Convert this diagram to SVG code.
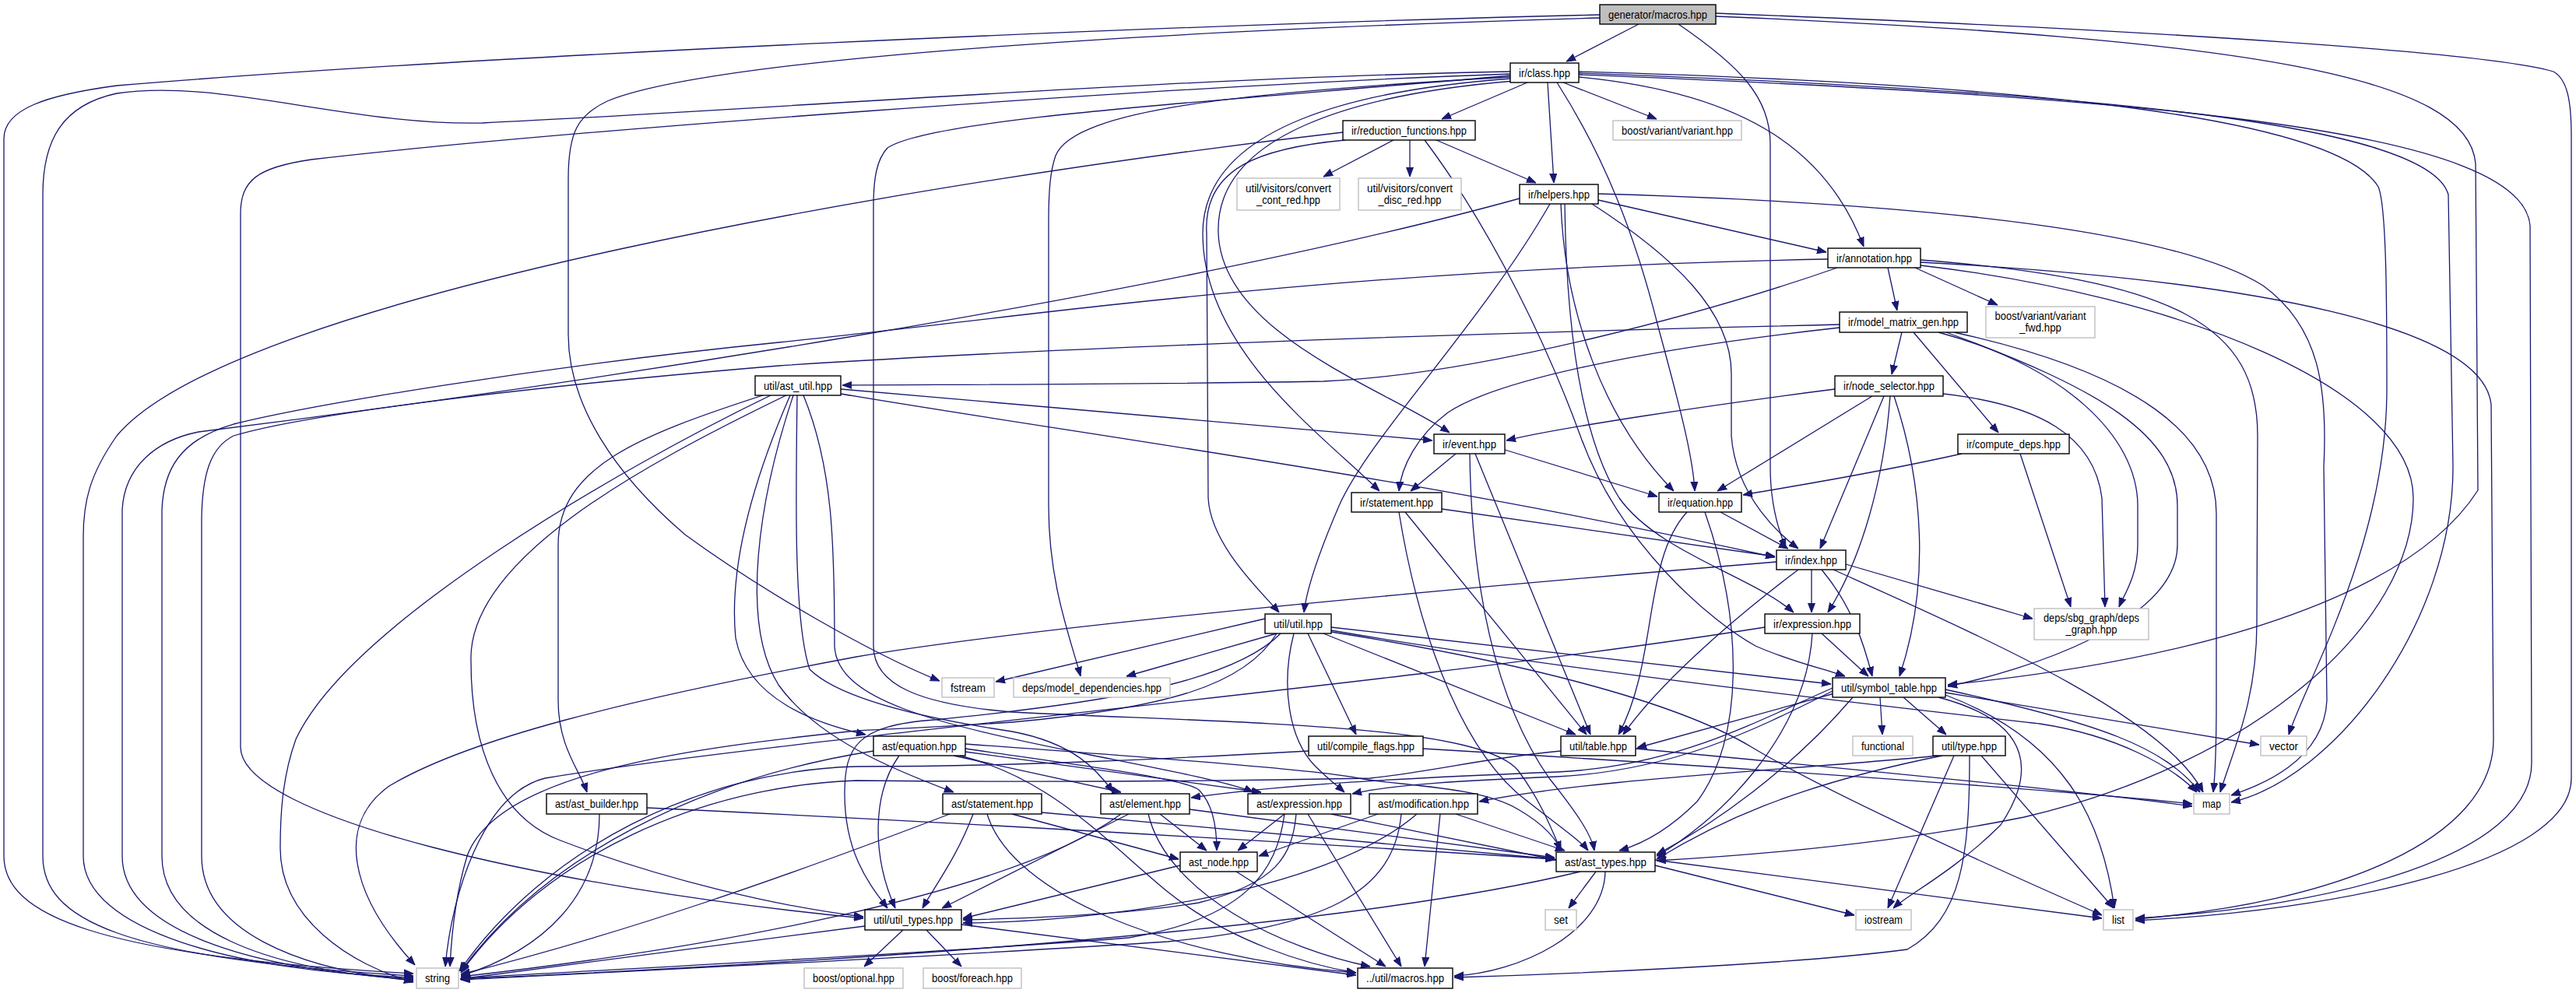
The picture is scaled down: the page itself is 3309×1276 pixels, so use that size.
<svg xmlns="http://www.w3.org/2000/svg" width="3309" height="1276" viewBox="0 0 3309 1276">
<defs>
<marker id="ah" viewBox="0 0 12 10" refX="12" refY="5" markerWidth="12" markerHeight="10" markerUnits="userSpaceOnUse" orient="auto"><path d="M0,0.5 L12,5 L0,9.5 z" fill="#191970" stroke="#191970" stroke-width="1"/></marker>
</defs>
<style>
.n rect{fill:#fff;stroke:#000;stroke-width:1.4}
.x rect{fill:#fff;stroke:#bfbfbf;stroke-width:1.4}
.r rect{fill:#bfbfbf;stroke:#000;stroke-width:1.4}
text{font-family:"Liberation Sans",Arial,sans-serif;font-size:14.5px;fill:#000;text-anchor:middle}
#edges path{fill:none;stroke:#191970;stroke-width:1.3;marker-end:url(#ah)}
</style>
<rect width="3309" height="1276" fill="#fff"/>
<g id="edges">
<path d="M2105,31 L2012,79"/>
<path d="M2055,19 C1500,32 600,72 150,110 C60,122 5,140 5,178 L5,1100 C5,1175 120,1228 531,1251"/>
<path d="M2055,23 C1400,42 900,80 780,130 C742,148 730,170 730,230 L730,430 C730,520 790,610 880,687 C980,760 1120,840 1207,875"/>
<path d="M2156,31 C2235,85 2274,125 2274,185 L2274,600 C2274,650 2286,685 2294,704"/>
<path d="M2204,21 C2900,50 3170,100 3180,210 L3183,630 C3100,760 2850,845 2502,880"/>
<path d="M2204,17 C2800,40 3200,68 3280,92 C3298,102 3303,130 3303,175 L3303,1000 C3303,1110 3000,1170 2743,1183"/>
<path d="M1962,106 L1852,153"/>
<path d="M2008,106 L2128,153"/>
<path d="M1988,106 L1996,235"/>
<path d="M2028,99 C2250,120 2350,200 2394,317"/>
<path d="M2000,106 C2060,200 2100,300 2130,420 C2160,530 2175,590 2177,631"/>
<path d="M1945,104 C1750,120 1560,170 1565,300 C1570,430 1780,500 1862,556"/>
<path d="M1941,101 C1750,115 1545,160 1545,300 C1545,450 1700,560 1772,631"/>
<path d="M1940,99 C1600,118 1380,140 1356,200 C1349,220 1347,245 1347,285 L1347,650 C1347,750 1375,820 1388,869"/>
<path d="M1940,97 C1600,128 1200,150 1140,190 C1126,205 1122,230 1122,265 L1122,830 C1122,880 1180,905 1300,915 C1600,930 1900,930 1950,990 C1980,1030 1995,1070 2005,1093"/>
<path d="M1940,92 C1500,100 1000,140 620,158 C450,162 280,100 150,120 C80,135 55,180 55,250 L55,1100 C55,1180 150,1232 531,1254"/>
<path d="M1940,95 C1500,110 700,170 400,205 C330,215 309,232 309,275 L309,960 C309,1050 700,1140 1109,1180"/>
<path d="M2028,92 C2600,108 3000,150 3055,240 C3066,265 3066,400 3066,500 C3066,700 2960,880 2940,944"/>
<path d="M2028,94 C2700,118 3120,160 3145,250 L3151,600 C3151,800 3000,1000 2866,1031"/>
<path d="M2028,96 C2800,126 3240,170 3250,290 L3252,980 C3252,1100 3000,1165 2743,1180"/>
<path d="M1790,180 L1700,227"/>
<path d="M1811,180 L1811,227"/>
<path d="M1845,180 L1973,235"/>
<path d="M1725,170 C1200,230 300,380 150,560 C115,610 107,645 107,690 L107,1100 C107,1195 300,1248 531,1256"/>
<path d="M1728,180 C1620,190 1545,215 1550,300 L1552,640 C1555,700 1620,760 1643,787"/>
<path d="M1830,180 C1920,300 1990,450 2030,560 C2080,700 2200,800 2255,830 C2300,850 2345,860 2370,869"/>
<path d="M2053,257 L2346,324"/>
<path d="M1952,255 C1500,380 700,500 255,555 C200,566 160,600 157,655 L157,1100 C157,1195 320,1246 531,1258"/>
<path d="M1991,262 C1900,420 1760,560 1720,650 C1690,720 1678,760 1675,787"/>
<path d="M2005,262 C2010,400 2060,540 2150,631"/>
<path d="M2010,262 C2012,420 2030,560 2080,640 C2130,710 2250,740 2304,787"/>
<path d="M2045,262 C2150,330 2224,400 2224,480 L2224,560 C2230,640 2290,690 2310,705"/>
<path d="M2053,249 C2500,262 2800,300 2907,367 C2980,420 2990,500 2985,600 L2989,900 C2985,980 2900,1010 2866,1022"/>
<path d="M2425,344 L2437,399"/>
<path d="M2460,344 L2566,392"/>
<path d="M2348,333 C1700,345 1300,410 1000,440 C700,470 400,520 300,545 C230,565 210,605 208,655 L208,1100 C208,1195 340,1246 531,1259"/>
<path d="M2360,344 C2200,400 1900,482 1700,490 C1400,495 1200,494 1082,495"/>
<path d="M2467,337 C2900,360 3190,420 3200,520 L3203,950 C3203,1080 3000,1160 2743,1181"/>
<path d="M2467,334 C2800,360 2900,420 2900,560 L2899,800 C2899,900 2870,960 2852,1018"/>
<path d="M2467,341 C2800,380 3100,500 3100,640 C3100,800 2900,980 2600,1050 C2400,1090 2200,1102 2128,1106"/>
<path d="M2443,427 L2430,481"/>
<path d="M2458,427 L2567,556"/>
<path d="M2363,417 C1800,430 1300,450 1000,470 C700,495 400,530 300,560 C270,575 260,610 259,665 L259,1100 C259,1195 380,1246 531,1260"/>
<path d="M2363,421 C2100,450 1920,490 1860,530 C1820,560 1800,600 1797,631"/>
<path d="M2490,427 C2650,470 2746,560 2746,650 L2746,700 C2746,740 2728,765 2722,780"/>
<path d="M2500,427 C2700,500 2797,560 2797,650 L2797,700 C2797,800 2600,862 2502,882"/>
<path d="M2510,427 C2750,480 2847,560 2847,660 L2847,900 C2847,960 2845,1000 2843,1018"/>
<path d="M2357,500 C2200,520 2000,550 1935,566"/>
<path d="M2405,509 L2206,631"/>
<path d="M2420,509 L2338,705"/>
<path d="M2428,509 C2420,620 2390,720 2348,787"/>
<path d="M2433,509 C2470,620 2480,750 2440,869"/>
<path d="M2496,506 C2620,520 2690,560 2700,640 L2704,780"/>
<path d="M2520,583 C2400,610 2300,625 2239,636"/>
<path d="M2595,583 L2660,780"/>
<path d="M1870,583 L1812,631"/>
<path d="M1933,578 L2129,638"/>
<path d="M1895,583 L2043,944"/>
<path d="M1888,583 C1890,750 1920,900 1990,1000 C2030,1050 2045,1075 2048,1093"/>
<path d="M1852,654 L2280,715"/>
<path d="M1805,658 L2038,944"/>
<path d="M1797,658 C1820,800 1870,950 1950,1020 C2000,1060 2030,1080 2040,1093"/>
<path d="M2210,658 L2297,705"/>
<path d="M2167,658 C2110,720 2130,850 2079,944"/>
<path d="M2190,658 C2240,800 2240,950 2180,1030 C2130,1080 2090,1090 2080,1093"/>
<path d="M2327,732 L2327,787"/>
<path d="M2340,732 C2380,780 2395,830 2405,869"/>
<path d="M2310,732 C2220,800 2130,880 2085,944"/>
<path d="M2371,725 L2611,795"/>
<path d="M2355,732 C2550,820 2780,920 2830,1018"/>
<path d="M2282,722 C1700,770 1300,810 1100,844 C800,900 600,950 500,1010 C430,1060 450,1150 533,1240"/>
<path d="M2340,814 L2400,869"/>
<path d="M2328,814 C2320,950 2200,1060 2128,1100"/>
<path d="M2267,806 C1800,880 1000,950 700,1000 C620,1020 580,1150 572,1242"/>
<path d="M1625,795 L1279,876"/>
<path d="M1640,814 L1447,869"/>
<path d="M1640,814 C1600,880 1500,910 1300,928 C1200,935 1130,937 1100,939 C900,960 640,990 600,1100 C585,1150 580,1200 578,1242"/>
<path d="M1645,814 C1580,880 1400,905 1200,925 C1100,932 1085,960 1085,1020 C1085,1100 1120,1140 1140,1167"/>
<path d="M1662,814 C1645,880 1655,950 1690,985 C1705,1000 1718,1010 1727,1018"/>
<path d="M1680,814 L1742,944"/>
<path d="M1700,814 L2024,944"/>
<path d="M1710,806 L2352,879"/>
<path d="M1710,810 C2000,860 2400,905 2620,930 C2720,945 2790,985 2822,1018"/>
<path d="M1710,812 C1950,850 2150,900 2250,960 C2350,1020 2550,1110 2700,1176"/>
<path d="M1681,965 C1500,975 1300,985 1100,985 C900,990 700,1090 590,1248"/>
<path d="M1828,962 C2300,990 2700,1020 2816,1033"/>
<path d="M2005,965 C1900,975 1850,990 1760,1000 C1500,1005 1300,1005 1100,1003 C900,1010 700,1100 592,1250"/>
<path d="M2101,962 C2400,990 2700,1020 2816,1036"/>
<path d="M2415,896 L2418,944"/>
<path d="M2445,896 L2500,944"/>
<path d="M2499,890 L2902,957"/>
<path d="M2499,886 C2700,930 2780,960 2826,1018"/>
<path d="M2499,893 C2650,950 2700,1050 2716,1167"/>
<path d="M2490,896 C2620,930 2610,1000 2570,1060 C2510,1120 2450,1150 2432,1167"/>
<path d="M2360,890 L2103,961"/>
<path d="M2380,896 C2300,990 2200,1060 2128,1098"/>
<path d="M2354,884 C2250,930 2150,985 2000,992 C1800,1000 1650,1008 1530,1025"/>
<path d="M2354,888 C2250,940 2150,990 2000,998 C1880,1003 1790,1008 1737,1020"/>
<path d="M2510,971 L2425,1167"/>
<path d="M2545,971 L2715,1167"/>
<path d="M2530,971 C2530,1100 2520,1180 2450,1220 C2300,1240 2000,1252 1868,1256"/>
<path d="M2490,971 C2300,990 2050,1000 1900,1030"/>
<path d="M2495,971 C2300,1010 2200,1060 2128,1104"/>
<path d="M2050,1120 L2015,1167"/>
<path d="M2062,1120 C2060,1200 1950,1250 1868,1254"/>
<path d="M2030,1120 C1700,1200 1000,1240 591,1258"/>
<path d="M2126,1112 L2382,1176"/>
<path d="M2126,1105 L2700,1180"/>
<path d="M1160,1195 L1110,1242"/>
<path d="M1190,1195 L1235,1242"/>
<path d="M1235,1188 L1742,1253"/>
<path d="M1111,1190 L591,1258"/>
<path d="M1516,1112 L1237,1180"/>
<path d="M1588,1120 L1780,1242"/>
<path d="M1155,971 C1120,1020 1120,1100 1150,1167"/>
<path d="M1240,962 C1400,985 1520,1000 1540,1015 C1560,1035 1563,1070 1563,1093"/>
<path d="M1225,971 L1440,1018"/>
<path d="M1240,966 L1620,1018"/>
<path d="M1240,956 C1500,975 1700,990 1745,1000 C1800,1010 1900,1010 1950,1040 C1985,1060 2000,1080 2005,1093"/>
<path d="M1233,971 C1350,1000 1420,1080 1500,1146 C1580,1210 1680,1240 1742,1250"/>
<path d="M1122,965 C900,1000 700,1100 592,1248"/>
<path d="M1250,1046 C1230,1100 1200,1140 1185,1167"/>
<path d="M1300,1046 L1514,1104"/>
<path d="M1338,1044 L1997,1104"/>
<path d="M1268,1046 C1300,1150 1500,1230 1742,1250"/>
<path d="M1220,1046 C1000,1130 800,1200 592,1252"/>
<path d="M1450,1046 L1210,1167"/>
<path d="M1490,1046 L1550,1093"/>
<path d="M1528,1040 L1997,1102"/>
<path d="M1475,1046 C1500,1150 1650,1220 1760,1242"/>
<path d="M1440,1046 C1300,1150 900,1220 592,1255"/>
<path d="M1650,1046 L1590,1093"/>
<path d="M1665,1046 C1660,1100 1640,1135 1540,1160 C1450,1175 1330,1180 1237,1182"/>
<path d="M1710,1046 L1999,1105"/>
<path d="M1680,1046 L1800,1242"/>
<path d="M1650,1046 C1640,1120 1600,1180 1450,1205 C1200,1225 800,1245 592,1257"/>
<path d="M1770,1046 L1617,1100"/>
<path d="M1870,1046 L2010,1093"/>
<path d="M1820,1046 C1700,1150 1400,1185 1237,1186"/>
<path d="M1850,1046 L1830,1242"/>
<path d="M1800,1046 C1790,1150 1700,1190 1500,1210 C1200,1230 800,1248 592,1259"/>
<path d="M1015,508 C975,600 935,720 945,820 C960,900 1050,930 1112,944"/>
<path d="M1019,508 C975,640 950,800 1000,880 C1050,950 1150,990 1225,1018"/>
<path d="M1024,508 C1022,650 1020,800 1040,860 C1080,900 1200,925 1300,940 C1380,955 1410,990 1430,1018"/>
<path d="M1032,508 C1070,600 1072,700 1072,830 C1075,900 1200,930 1400,970 C1500,990 1580,1005 1610,1018"/>
<path d="M1080,500 L1840,566"/>
<path d="M1080,506 C1400,560 1800,610 2280,716"/>
<path d="M990,508 C800,600 450,800 380,950 C362,1000 360,1050 360,1090 C360,1180 450,1240 531,1262"/>
<path d="M1010,508 C820,600 600,720 605,850 C605,960 640,1050 720,1080 C850,1130 1000,1165 1109,1178"/>
<path d="M980,508 C820,560 717,600 717,700 L717,900 C717,960 745,990 754,1018"/>
<path d="M770,1046 C770,1150 700,1220 592,1254"/>
<path d="M831,1038 C1300,1060 1700,1085 1997,1104"/>
</g>
<g id="n_macros" class="r"><rect x="2055" y="6" width="149" height="25"/><text x="2129.5" y="23.5" textLength="127" lengthAdjust="spacingAndGlyphs">generator/macros.hpp</text></g>
<g id="n_class" class="n"><rect x="1940" y="81" width="88" height="25"/><text x="1984" y="98.5" textLength="66" lengthAdjust="spacingAndGlyphs">ir/class.hpp</text></g>
<g id="n_reduction" class="n"><rect x="1725" y="155" width="170" height="25"/><text x="1810" y="172.5" textLength="148" lengthAdjust="spacingAndGlyphs">ir/reduction_functions.hpp</text></g>
<g id="n_variant" class="x"><rect x="2072" y="155" width="165" height="25"/><text x="2154.5" y="172.5" textLength="143" lengthAdjust="spacingAndGlyphs">boost/variant/variant.hpp</text></g>
<g id="n_cont_red" class="x"><rect x="1589" y="229" width="132" height="41"/><text x="1655" y="247" textLength="110" lengthAdjust="spacingAndGlyphs">util/visitors/convert</text><text x="1655" y="262" textLength="82" lengthAdjust="spacingAndGlyphs">_cont_red.hpp</text></g>
<g id="n_disc_red" class="x"><rect x="1745" y="229" width="132" height="41"/><text x="1811" y="247" textLength="110" lengthAdjust="spacingAndGlyphs">util/visitors/convert</text><text x="1811" y="262" textLength="81" lengthAdjust="spacingAndGlyphs">_disc_red.hpp</text></g>
<g id="n_helpers" class="n"><rect x="1952" y="237" width="101" height="25"/><text x="2002.5" y="254.5" textLength="79" lengthAdjust="spacingAndGlyphs">ir/helpers.hpp</text></g>
<g id="n_annotation" class="n"><rect x="2348" y="319" width="119" height="25"/><text x="2407.5" y="336.5" textLength="97" lengthAdjust="spacingAndGlyphs">ir/annotation.hpp</text></g>
<g id="n_variant_fwd" class="x"><rect x="2551" y="394" width="140" height="40"/><text x="2621" y="411" textLength="117" lengthAdjust="spacingAndGlyphs">boost/variant/variant</text><text x="2621" y="426" textLength="54" lengthAdjust="spacingAndGlyphs">_fwd.hpp</text></g>
<g id="n_mmg" class="n"><rect x="2363" y="401" width="164" height="26"/><text x="2445" y="419" textLength="142" lengthAdjust="spacingAndGlyphs">ir/model_matrix_gen.hpp</text></g>
<g id="n_ast_util" class="n"><rect x="970" y="483" width="110" height="25"/><text x="1025" y="500.5" textLength="88" lengthAdjust="spacingAndGlyphs">util/ast_util.hpp</text></g>
<g id="n_node_selector" class="n"><rect x="2357" y="483" width="139" height="26"/><text x="2426.5" y="501" textLength="117" lengthAdjust="spacingAndGlyphs">ir/node_selector.hpp</text></g>
<g id="n_event" class="n"><rect x="1842" y="558" width="91" height="25"/><text x="1887.5" y="575.5" textLength="69" lengthAdjust="spacingAndGlyphs">ir/event.hpp</text></g>
<g id="n_compute_deps" class="n"><rect x="2515" y="558" width="143" height="25"/><text x="2586.5" y="575.5" textLength="121" lengthAdjust="spacingAndGlyphs">ir/compute_deps.hpp</text></g>
<g id="n_ir_equation" class="n"><rect x="2131" y="633" width="106" height="25"/><text x="2184" y="650.5" textLength="84" lengthAdjust="spacingAndGlyphs">ir/equation.hpp</text></g>
<g id="n_ir_statement" class="n"><rect x="1736" y="633" width="116" height="25"/><text x="1794" y="650.5" textLength="94" lengthAdjust="spacingAndGlyphs">ir/statement.hpp</text></g>
<g id="n_index" class="n"><rect x="2282" y="707" width="89" height="25"/><text x="2326.5" y="724.5" textLength="67" lengthAdjust="spacingAndGlyphs">ir/index.hpp</text></g>
<g id="n_deps_graph" class="x"><rect x="2613" y="782" width="147" height="40"/><text x="2686.5" y="799" textLength="123" lengthAdjust="spacingAndGlyphs">deps/sbg_graph/deps</text><text x="2686.5" y="814" textLength="66" lengthAdjust="spacingAndGlyphs">_graph.hpp</text></g>
<g id="n_util" class="n"><rect x="1625" y="789" width="85" height="25"/><text x="1667.5" y="806.5" textLength="63" lengthAdjust="spacingAndGlyphs">util/util.hpp</text></g>
<g id="n_ir_expression" class="n"><rect x="2267" y="789" width="122" height="25"/><text x="2328" y="806.5" textLength="100" lengthAdjust="spacingAndGlyphs">ir/expression.hpp</text></g>
<g id="n_fstream" class="x"><rect x="1210" y="871" width="67" height="25"/><text x="1243.5" y="888.5" textLength="45" lengthAdjust="spacingAndGlyphs">fstream</text></g>
<g id="n_model_deps" class="x"><rect x="1302" y="871" width="201" height="25"/><text x="1402.5" y="888.5" textLength="179" lengthAdjust="spacingAndGlyphs">deps/model_dependencies.hpp</text></g>
<g id="n_symbol_table" class="n"><rect x="2354" y="871" width="145" height="25"/><text x="2426.5" y="888.5" textLength="123" lengthAdjust="spacingAndGlyphs">util/symbol_table.hpp</text></g>
<g id="n_ast_equation" class="n"><rect x="1122" y="946" width="118" height="25"/><text x="1181" y="963.5" textLength="96" lengthAdjust="spacingAndGlyphs">ast/equation.hpp</text></g>
<g id="n_compile_flags" class="n"><rect x="1681" y="946" width="147" height="25"/><text x="1754.5" y="963.5" textLength="125" lengthAdjust="spacingAndGlyphs">util/compile_flags.hpp</text></g>
<g id="n_table" class="n"><rect x="2005" y="946" width="96" height="25"/><text x="2053" y="963.5" textLength="74" lengthAdjust="spacingAndGlyphs">util/table.hpp</text></g>
<g id="n_functional" class="x"><rect x="2380" y="946" width="77" height="25"/><text x="2418.5" y="963.5" textLength="55" lengthAdjust="spacingAndGlyphs">functional</text></g>
<g id="n_type" class="n"><rect x="2483" y="946" width="93" height="25"/><text x="2529.5" y="963.5" textLength="71" lengthAdjust="spacingAndGlyphs">util/type.hpp</text></g>
<g id="n_vector" class="x"><rect x="2904" y="946" width="59" height="25"/><text x="2933.5" y="963.5" textLength="37" lengthAdjust="spacingAndGlyphs">vector</text></g>
<g id="n_ast_builder" class="n"><rect x="702" y="1020" width="129" height="26"/><text x="766.5" y="1038" textLength="107" lengthAdjust="spacingAndGlyphs">ast/ast_builder.hpp</text></g>
<g id="n_ast_statement" class="n"><rect x="1211" y="1020" width="127" height="26"/><text x="1274.5" y="1038" textLength="105" lengthAdjust="spacingAndGlyphs">ast/statement.hpp</text></g>
<g id="n_ast_element" class="n"><rect x="1414" y="1020" width="114" height="26"/><text x="1471" y="1038" textLength="92" lengthAdjust="spacingAndGlyphs">ast/element.hpp</text></g>
<g id="n_ast_expression" class="n"><rect x="1603" y="1020" width="132" height="26"/><text x="1669" y="1038" textLength="110" lengthAdjust="spacingAndGlyphs">ast/expression.hpp</text></g>
<g id="n_ast_modification" class="n"><rect x="1759" y="1020" width="139" height="26"/><text x="1828.5" y="1038" textLength="117" lengthAdjust="spacingAndGlyphs">ast/modification.hpp</text></g>
<g id="n_map" class="x"><rect x="2818" y="1020" width="46" height="26"/><text x="2841" y="1038" textLength="24" lengthAdjust="spacingAndGlyphs">map</text></g>
<g id="n_ast_node" class="n"><rect x="1516" y="1095" width="99" height="25"/><text x="1565.5" y="1112.5" textLength="77" lengthAdjust="spacingAndGlyphs">ast_node.hpp</text></g>
<g id="n_ast_types" class="n"><rect x="1999" y="1095" width="127" height="25"/><text x="2062.5" y="1112.5" textLength="105" lengthAdjust="spacingAndGlyphs">ast/ast_types.hpp</text></g>
<g id="n_util_types" class="n"><rect x="1111" y="1169" width="124" height="26"/><text x="1173" y="1187" textLength="102" lengthAdjust="spacingAndGlyphs">util/util_types.hpp</text></g>
<g id="n_set" class="x"><rect x="1985" y="1169" width="40" height="26"/><text x="2005" y="1187" textLength="18" lengthAdjust="spacingAndGlyphs">set</text></g>
<g id="n_iostream" class="x"><rect x="2384" y="1169" width="71" height="26"/><text x="2419.5" y="1187" textLength="49" lengthAdjust="spacingAndGlyphs">iostream</text></g>
<g id="n_list" class="x"><rect x="2702" y="1169" width="38" height="26"/><text x="2721" y="1187" textLength="16" lengthAdjust="spacingAndGlyphs">list</text></g>
<g id="n_string" class="x"><rect x="535" y="1244" width="54" height="26"/><text x="562" y="1262" textLength="32" lengthAdjust="spacingAndGlyphs">string</text></g>
<g id="n_optional" class="x"><rect x="1033" y="1244" width="127" height="26"/><text x="1096.5" y="1262" textLength="105" lengthAdjust="spacingAndGlyphs">boost/optional.hpp</text></g>
<g id="n_foreach" class="x"><rect x="1186" y="1244" width="126" height="26"/><text x="1249" y="1262" textLength="104" lengthAdjust="spacingAndGlyphs">boost/foreach.hpp</text></g>
<g id="n_util_macros" class="n"><rect x="1744" y="1244" width="122" height="26"/><text x="1805" y="1262" textLength="100" lengthAdjust="spacingAndGlyphs">../util/macros.hpp</text></g>
</svg>
